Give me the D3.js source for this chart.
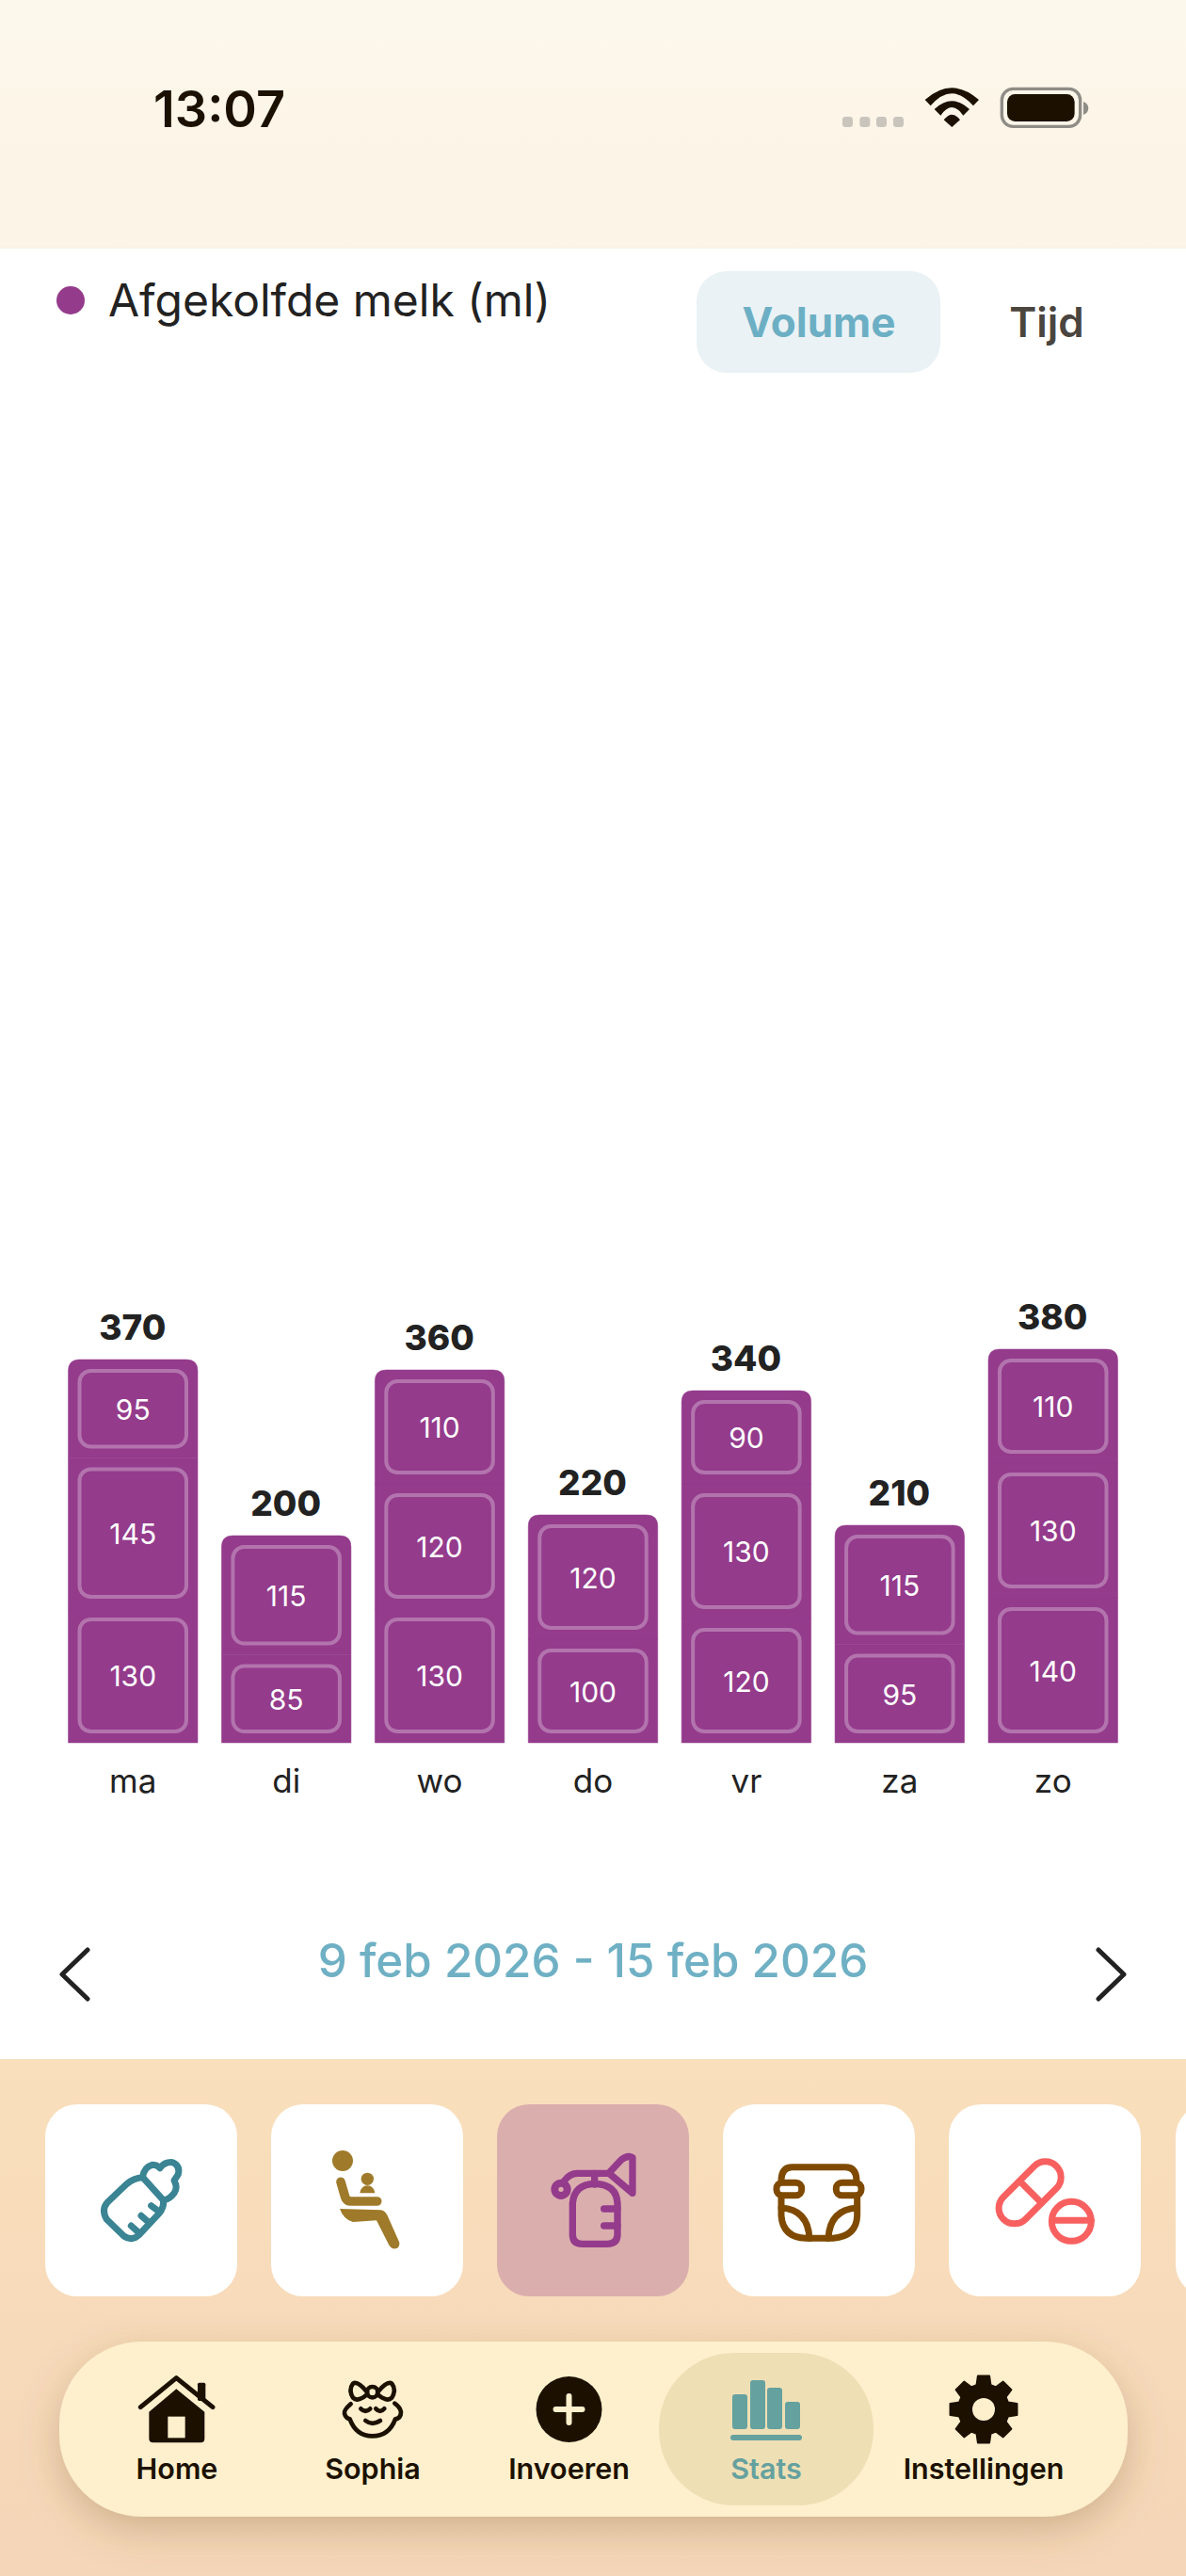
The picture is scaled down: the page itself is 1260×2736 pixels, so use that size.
<!DOCTYPE html>
<html>
<head>
<meta charset="utf-8">
<script src="https://cdn.jsdelivr.net/npm/d3@7"></script>
<style>
  html, body { margin: 0; padding: 0; background: #fff; }
  svg { display: block; }
  text { font-family: Inter, "Noto Sans", sans-serif; }
</style>
</head>
<body>
<div id="chart"></div>
<script>
// chart data
var days = ["ma", "di", "wo", "do", "vr", "za", "zo"];
var totals = [370, 200, 360, 220, 340, 210, 380];
var seg1 = [130, 85, 130, 100, 120, 95, 140];
var seg2 = [145, 115, 120, 120, 130, 115, 130];
var seg3 = [95, 0, 110, 0, 90, 0, 110];

var navLabels = ["Home", "Sophia", "Invoeren", "Stats", "Instellingen"];
var navCenters = [188, 396, 604.5, 814, 1045];
var cardLefts = [48, 288, 528, 768, 1008, 1249];

var ink = "#1c1100";
var purple = "#943b8c";

var svg = d3.select("#chart").append("svg")
    .attr("width", 1260)
    .attr("height", 2736);

var defs = svg.append("defs");

var headGrad = defs.append("linearGradient").attr("id", "headGrad").attr("x2", 0).attr("y2", 1);
headGrad.append("stop").attr("offset", 0).attr("stop-color", "#fcf9ec");
headGrad.append("stop").attr("offset", 0.6).attr("stop-color", "#fcf4e7");
headGrad.append("stop").attr("offset", 1).attr("stop-color", "#fbf4e7");

var panelGrad = defs.append("linearGradient").attr("id", "panelGrad").attr("x2", 0).attr("y2", 1);
panelGrad.append("stop").attr("offset", 0).attr("stop-color", "#f9dfbc");
panelGrad.append("stop").attr("offset", 1).attr("stop-color", "#f5d6b8");

defs.append("filter").attr("id", "navShadow")
    .attr("x", "-10%").attr("y", "-30%").attr("width", "120%").attr("height", "170%")
  .append("feDropShadow")
    .attr("dx", 0).attr("dy", 14).attr("stdDeviation", 20)
    .attr("flood-color", "#7a5a2a").attr("flood-opacity", 0.3);

// status bar
svg.append("rect").attr("width", 1260).attr("height", 264).attr("fill", "url(#headGrad)");
svg.append("rect").attr("y", 263).attr("width", 1260).attr("height", 1).attr("fill", "#f6f2e8");

svg.append("text").attr("x", 233).attr("y", 135)
    .attr("text-anchor", "middle")
    .attr("font-size", 54).attr("font-weight", 600).attr("fill", ink)
    .text("13:07");

var statusIcons = svg.append("g").attr("transform", "translate(880,80) scale(0.3333)");
[45, 100, 153, 207].forEach(function(px){
    statusIcons.append("rect").attr("x", px).attr("y", 132).attr("width", 33).attr("height", 33)
        .attr("rx", 10).attr("fill", "#c9c5bd");
});
statusIcons.append("path").attr("fill", ink).attr("d",
    "M308 78 Q394 2 480 78 L462 97 Q394 19 326 97 Z" +
    "M338 108 Q394 56 450 108 L430 128 Q394 76 358 128 Z" +
    "M394 165 L368 142 Q394 108 420 142 Z");
statusIcons.append("rect").attr("x", 553).attr("y", 43).attr("width", 250).attr("height", 120)
    .attr("rx", 36).attr("fill", "none").attr("stroke", "#8f8c86").attr("stroke-width", 10);
statusIcons.append("rect").attr("x", 570).attr("y", 60).attr("width", 215).attr("height", 87)
    .attr("rx", 25).attr("fill", ink);
statusIcons.append("path").attr("fill", "#8f8c86")
    .attr("d", "M813 84 Q829 90 829 105 Q829 120 813 126 Z");

// legend and toggle
svg.append("circle").attr("cx", 75).attr("cy", 319).attr("r", 15).attr("fill", purple);
svg.append("text").attr("x", 115).attr("y", 336)
    .attr("font-size", 48).attr("fill", "#222")
    .text("Afgekolfde melk (ml)");

svg.append("rect").attr("x", 740).attr("y", 288).attr("width", 259).attr("height", 108)
    .attr("rx", 32).attr("fill", "#eaf2f5");
svg.append("text").attr("x", 870).attr("y", 358).attr("text-anchor", "middle")
    .attr("font-size", 44).attr("font-weight", 700).attr("fill", "#6cafc4")
    .text("Volume");
svg.append("text").attr("x", 1112).attr("y", 358).attr("text-anchor", "middle")
    .attr("font-size", 44).attr("font-weight", 600).attr("fill", "#4a453e")
    .text("Tijd");

// scales
var x = d3.scaleBand()
    .domain(days)
    .range([72.5, 1187.5])
    .paddingInner(0.156)
    .paddingOuter(0);

var y = d3.scaleLinear()
    .domain([0, 1000])
    .range([1851, 751]);

// stacked bars
var table = days.map(function(d, i){
    return {day: d, total: totals[i], seg1: seg1[i], seg2: seg2[i], seg3: seg3[i]};
});
var series = d3.stack().keys(["seg1", "seg2", "seg3"])(table);

function segPath(d){
    var x0 = x(d.data.day), x1 = x0 + x.bandwidth();
    var y1 = y(d[1]), y0 = y(d[0]);
    var r = d[1] == d.data.total ? 12 : 0;
    var p = d3.path();
    p.moveTo(x0, y0);
    p.lineTo(x0, y1 + r);
    if(r) p.quadraticCurveTo(x0, y1, x0 + r, y1);
    p.lineTo(x1 - r, y1);
    if(r) p.quadraticCurveTo(x1, y1, x1, y1 + r);
    p.lineTo(x1, y0);
    p.closePath();
    return p.toString();
}

var chart = svg.append("g");

series.forEach(function(s){
    var segs = chart.append("g").selectAll("g")
        .data(s.filter(function(d){ return d[1] > d[0]; }))
        .enter().append("g");

    segs.append("path")
        .attr("d", segPath)
        .attr("fill", purple)
        .attr("stroke", purple)
        .attr("stroke-width", 0.5);

    segs.append("rect")
        .attr("x", function(d){ return x(d.data.day) + 12; })
        .attr("y", function(d){ return y(d[1]) + 12; })
        .attr("width", x.bandwidth() - 24)
        .attr("height", function(d){ return y(d[0]) - y(d[1]) - 24; })
        .attr("rx", 12)
        .attr("fill", "none")
        .attr("stroke", "#b374ae")
        .attr("stroke-width", 4);

    segs.append("text")
        .attr("x", function(d){ return x(d.data.day) + x.bandwidth() / 2; })
        .attr("y", function(d){ return (y(d[0]) + y(d[1])) / 2 + 1; })
        .attr("dy", "0.36em")
        .attr("text-anchor", "middle")
        .attr("font-size", 30)
        .attr("fill", "#fff")
        .text(function(d){ return d[1] - d[0]; });
});

chart.append("g").selectAll("text")
    .data(table)
    .enter().append("text")
    .attr("x", function(d){ return x(d.day) + x.bandwidth() / 2 - 0.5; })
    .attr("y", function(d){ return y(d.total) - 21; })
    .attr("text-anchor", "middle")
    .attr("font-size", 37)
    .attr("font-weight", 800)
    .attr("fill", "#222")
    .text(function(d){ return d.total; });

var axis = d3.axisBottom(x).tickSize(0).tickPadding(0);
var axisG = svg.append("g").attr("transform", "translate(0,1851)").call(axis);
axisG.select(".domain").remove();
axisG.selectAll("text")
    .attr("y", 53)
    .attr("dy", 0)
    .attr("font-size", 35)
    .attr("font-family", "Inter")
    .attr("fill", "#222");

// week navigation
svg.append("text").attr("x", 630).attr("y", 2100).attr("text-anchor", "middle")
    .attr("font-size", 49.3).attr("font-weight", 500).attr("fill", "#6fb0c4")
    .text("9 feb 2026 - 15 feb 2026");
svg.append("path").attr("fill", "none").attr("stroke", "#222").attr("stroke-width", 5)
    .attr("stroke-linecap", "round").attr("stroke-linejoin", "round")
    .attr("d", "M93 2071 L66 2097 L93 2123 M1167 2071 L1194 2097 L1167 2123");

// bottom panel
svg.append("rect").attr("y", 2187).attr("width", 1260).attr("height", 549).attr("fill", "url(#panelGrad)");

svg.append("g").selectAll("rect")
    .data(cardLefts)
    .enter().append("rect")
    .attr("x", function(d){ return d; })
    .attr("y", 2235)
    .attr("width", 204)
    .attr("height", 204)
    .attr("rx", 34)
    .attr("fill", function(d, i){ return i == 2 ? "#dbaeae" : "#fff"; });

function icon(ox, oy, color, sw){
    return svg.append("g")
        .attr("transform", "translate(" + ox + "," + oy + ") scale(0.3333)")
        .attr("fill", "none")
        .attr("stroke", color)
        .attr("stroke-width", sw)
        .attr("stroke-linecap", "round")
        .attr("stroke-linejoin", "round");
}

// bottle
var bottle = icon(90, 2270, "#3a8494", 21);
bottle.append("path").attr("d", "M185 128 Q155 130 135 148 L72 208 Q52 230 70 262 L125 315 Q150 332 172 312 L235 245 Q255 222 250 200 Z");
bottle.append("path").attr("d", "M185 125 Q190 95 215 88 Q230 88 240 98 Q255 78 280 80 Q305 90 298 118 L285 138 Q298 160 285 178 Q272 195 255 200");
bottle.append("path").attr("d", "M148 282 L170 302 M180 250 L205 272 M212 218 L238 238");

// feeding chair
var seat = icon(330, 2270, "#9f7a2a", 0).attr("fill", "#9f7a2a").attr("stroke", "none");
seat.append("circle").attr("cx", 102).attr("cy", 75).attr("r", 33);
seat.append("circle").attr("cx", 181).attr("cy", 133).attr("r", 20);
seat.append("path").attr("d", "M157 178 A24 24 0 0 1 205 178 Z");
seat.append("path").attr("fill", "none").attr("stroke", "#9f7a2a").attr("stroke-width", 29)
    .attr("stroke-linecap", "round").attr("stroke-linejoin", "round")
    .attr("d", "M96 142 L110 190 Q114 204 130 204 L212 204");
seat.append("path").attr("d", "M93 228 L225 232 Q238 235 245 250 L283 335 Q285 352 270 355 Q255 357 248 340 L210 265 L135 270 Q105 262 93 228 Z");

// breast pump
var pump = icon(570, 2270, purple, 22);
pump.append("path").attr("d", "M115 210 Q120 150 185 148 Q255 150 258 210 L258 310 Q258 340 225 340 L145 340 Q115 340 115 310 Z");
pump.append("path").attr("d", "M215 228 L258 228 M215 282 L258 282 M185 115 L185 150");
pump.append("circle").attr("cx", 78).attr("cy", 166).attr("r", 20).attr("stroke-width", 24);
pump.append("path").attr("d", "M88 140 Q105 115 130 115 L230 115 L270 72 Q290 55 306 65 L306 178 L235 118");

// diaper
var diaper = icon(810, 2270, "#7f4a00", 21);
diaper.append("path").attr("d", "M60 135 Q62 95 95 95 L265 95 Q298 95 300 135");
diaper.append("rect").attr("x", 45).attr("y", 145).attr("width", 80).attr("height", 40).attr("rx", 18);
diaper.append("rect").attr("x", 235).attr("y", 145).attr("width", 80).attr("height", 40).attr("rx", 18);
diaper.append("path").attr("d", "M60 190 L60 250 Q65 320 140 322 L225 322 Q300 315 302 250 L302 190");
diaper.append("path").attr("d", "M60 225 Q145 230 150 322 M302 225 Q215 230 210 322");

// pills
var pill = icon(1050, 2270, "#f86060", 21);
pill.append("rect").attr("transform", "translate(132.5,176.5) rotate(-45)")
    .attr("x", -119.5).attr("y", -50).attr("width", 239).attr("height", 100).attr("rx", 50);
pill.append("path").attr("d", "M105 145 L165 205");
pill.append("circle").attr("cx", 265).attr("cy", 268).attr("r", 63);
pill.append("path").attr("d", "M205 265 L328 265");

// navigation bar
svg.append("rect").attr("x", 63).attr("y", 2487).attr("width", 1135).attr("height", 186)
    .attr("rx", 88).attr("fill", "#fef0cd").attr("filter", "url(#navShadow)");
svg.append("rect").attr("x", 700).attr("y", 2499).attr("width", 228).attr("height", 162)
    .attr("rx", 80).attr("fill", "#efdfb5");

svg.append("g").selectAll("text")
    .data(navLabels)
    .enter().append("text")
    .attr("x", function(d, i){ return navCenters[i]; })
    .attr("y", 2633)
    .attr("text-anchor", "middle")
    .attr("font-size", 30.5)
    .attr("font-weight", 600)
    .attr("fill", function(d){ return d == "Stats" ? "#65a19f" : ink; })
    .text(function(d){ return d; });

// home
var homeIcon = icon(130, 2510, ink, 15);
homeIcon.append("path").attr("d", "M58 140 L172 47 L288 140");
homeIcon.append("rect").attr("x", 240).attr("y", 62).attr("width", 25).attr("height", 58).attr("rx", 5)
    .attr("fill", ink).attr("stroke", "none");
homeIcon.append("path").attr("fill", ink).attr("stroke", "none")
    .attr("d", "M85 155 L172 82 L262 155 L262 240 Q262 253 250 253 L98 253 Q85 253 85 240 Z");
homeIcon.append("rect").attr("x", 145).attr("y", 170).attr("width", 55).attr("height", 68)
    .attr("fill", "#fef0cd").attr("stroke", "none");

// sophia
var baby = icon(130, 2510, ink, 14);
baby.append("path").attr("d", "M728 130 Q705 150 708 160 Q712 175 725 178 Q745 232 797 232 Q850 232 870 178 Q888 175 888 155 Q885 140 868 128");
baby.append("circle").attr("cx", 797).attr("cy", 92).attr("r", 17);
baby.append("path").attr("d", "M780 92 Q750 55 735 65 Q720 85 735 110 Q750 125 780 100");
baby.append("path").attr("d", "M814 92 Q844 55 859 65 Q874 85 859 110 Q844 125 814 100");
baby.append("path").attr("d", "M760 145 Q775 160 790 145 M808 145 Q822 160 835 145 M775 183 Q797 200 822 183");

// invoeren
svg.append("circle").attr("cx", 604.5).attr("cy", 2559).attr("r", 35).attr("fill", ink);
svg.append("path").attr("d", "M604.5 2545 L604.5 2573 M590.5 2559 L618.5 2559")
    .attr("stroke", "#fef0cd").attr("stroke-width", 6).attr("stroke-linecap", "round");

// stats icon
var statsIcon = svg.append("g").attr("fill", "#65a19f");
[[778, 2543], [797, 2528], [815, 2536], [834, 2551]].forEach(function(b){
    statsIcon.append("rect").attr("x", b[0]).attr("y", b[1]).attr("width", 16)
        .attr("height", 2580 - b[1]).attr("rx", 3);
});
statsIcon.append("rect").attr("x", 776).attr("y", 2586).attr("width", 76).attr("height", 6).attr("rx", 3);

// gear
var gearPts = [];
d3.range(8).forEach(function(i){
    var a = i * Math.PI / 4;
    [[-0.28, 27], [-0.17, 36], [0.17, 36], [0.28, 27]].forEach(function(p){
        gearPts.push([a + p[0], p[1]]);
    });
});
svg.append("path")
    .attr("transform", "translate(1045,2559)")
    .attr("fill", ink).attr("stroke", ink).attr("stroke-width", 2).attr("stroke-linejoin", "round")
    .attr("d", d3.lineRadial().curve(d3.curveLinearClosed)(gearPts));
svg.append("circle").attr("cx", 1045).attr("cy", 2559).attr("r", 12).attr("fill", "#fef0cd");
</script>
</body>
</html>
